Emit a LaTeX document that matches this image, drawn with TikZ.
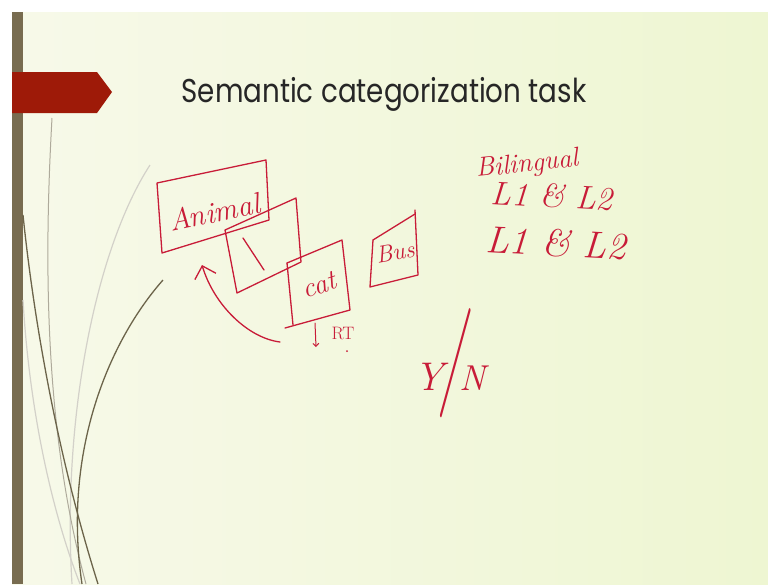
\documentclass[tikz,border=0pt]{standalone}
\usepackage{fontspec}
\usepackage{graphicx}
\newfontfamily\titlefont[FakeStretch=0.84]{Poppins}
\usetikzlibrary{positioning,arrows.meta}
\definecolor{ink}{RGB}{200,28,56}
\definecolor{barbrown}{RGB}{120,108,80}
\definecolor{tabred}{RGB}{158,26,8}
\definecolor{slideL}{RGB}{247,249,233}
\definecolor{slideM}{RGB}{250,252,240}
\definecolor{slideR}{RGB}{238,246,210}
\definecolor{vine}{RGB}{108,100,74}

\begin{document}
\begin{tikzpicture}[x=1pt, y=-1pt, >=Latex,
  sketch/.style={draw=ink, line width=1.3pt, line cap=round, line join=round},
  hand/.style={text=ink, font=\itshape, inner sep=0pt},
  vineline/.style={draw=vine, line width=1.3pt},
  faintvine/.style={draw=vine!30, line width=1.2pt}]
	\useasboundingbox (0,0) rectangle (768,584);
	% slide background
	\shade[left color=slideL, middle color=slideM, right color=slideR] (12,12) rectangle (768,584);
	\fill[barbrown] (12,12) rectangle (23,584);
	\fill[tabred] (12,72) -- (97,72) -- (112,92) -- (97,113) -- (12,113) -- cycle;
	% vines
	\draw[faintvine] (150,165) .. controls (95,250) and (62,420) .. (72,584);
	\draw[faintvine] (23,300) .. controls (30,420) and (55,520) .. (80,584);
	\draw[vineline, draw=vine!55, line width=1pt] (52,118) .. controls (44,260) and (44,430) .. (86,584);
	\draw[vineline] (23,215) .. controls (36,340) and (62,470) .. (98,584);
	\draw[vineline] (163,280) .. controls (110,340) and (62,450) .. (82,584);
	% title
	\node[font=\titlefont\fontsize{33}{33}\selectfont, text=black!85] (title) at (384,94) {Semantic categorization task};
	% sketched boxes
	\draw[sketch] (157,183) -- (266,160) -- (269,220) -- (162,253) -- cycle;
	\draw[sketch] (225,230) -- (296,198) -- (301,262) -- (237,293) -- cycle;
	\draw[sketch] (243,238) -- (264,270);
	\draw[sketch] (287,263) -- (342,240) -- (350,310) -- (285,328);
	\draw[sketch] (287,263) -- (293,325);
	\draw[sketch] (373,240) -- (415,214);
	\draw[sketch] (415,210) -- (418,275) -- (370,287) -- (373,240);
	\node[hand, rotate=12, font=\itshape\fontsize{30}{30}\selectfont] (animal) at (214,212) {Animal};
	\node[hand, rotate=18, font=\itshape\fontsize{28}{28}\selectfont] (cat) at (319,285) {cat};
	\node[hand, rotate=10, font=\itshape\fontsize{24}{24}\selectfont] (bus) at (395,252) {Bus};
	\node[hand, font=\fontsize{18}{18}\selectfont] (rt) at (343,333) {RT};
	\coordinate (rttop) at (315,323);
	\coordinate (rtbot) at (316,347);
	\draw[sketch, line width=1pt, -{Straight Barb[length=3pt,width=6pt]}] (rttop) -- (rtbot);
	\fill[ink] (347,351) circle (1);
	% arrow back to the category
	\coordinate (arrtail) at (280,342);
	\coordinate (arrtip) at (202,265);
	\draw[sketch, -{Straight Barb[length=11pt,width=22pt]}] (arrtail) .. controls (248,338) and (214,305) .. (arrtip);
	% right side notes
	\node[hand, rotate=6, font=\itshape\fontsize{27}{27}\selectfont] (biling) at (527,165) {Bilingual};
	\node[hand, rotate=-3, font=\itshape\fontsize{33}{33}\selectfont] (langA) at (552,196) {L1 \& L2};
	\node[hand, rotate=-3, font=\itshape\fontsize{38}{38}\selectfont] (langB) at (556,243) {L1 \& L2};
	\node[hand] (yn) at (450,363) {{\fontsize{40}{40}\selectfont Y}\kern-4pt\scalebox{1}[2.1]{\fontsize{52}{52}\selectfont /}\kern-6pt{\fontsize{36}{36}\selectfont N}};
\end{tikzpicture}
\end{document}
